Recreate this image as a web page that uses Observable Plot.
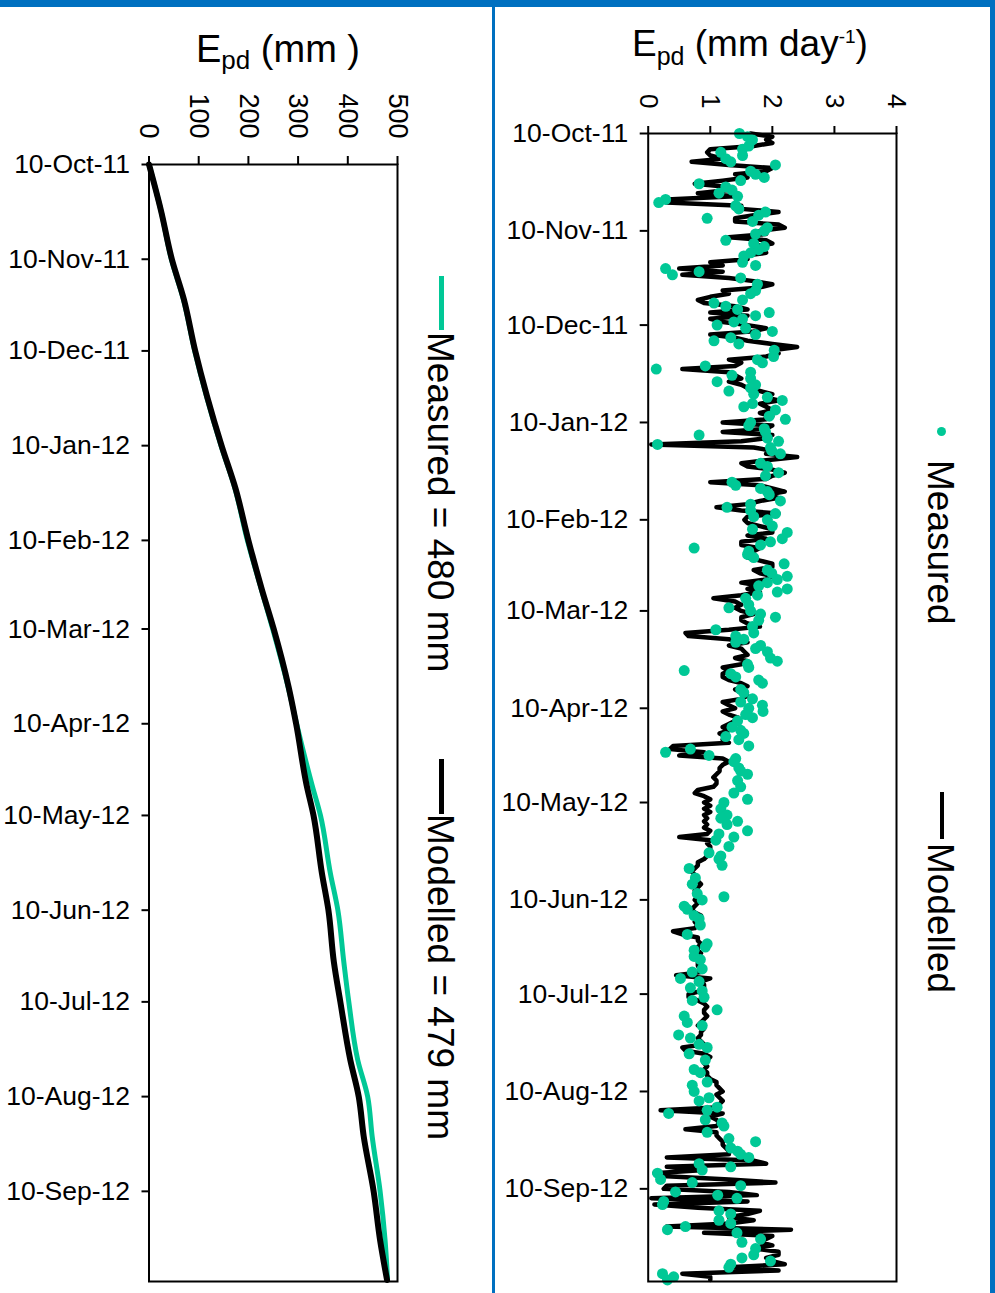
<!DOCTYPE html>
<html>
<head>
<meta charset="utf-8">
<script src="https://cdn.jsdelivr.net/npm/d3@7"></script>
<script src="https://cdn.jsdelivr.net/npm/@observablehq/plot@0.6"></script>
<style>
html,body{margin:0;padding:0;background:#fff;}
#root{position:relative;width:995px;height:1293px;overflow:hidden;font-family:"Liberation Sans",Arial,Helvetica,sans-serif;color:#000;}
.abs{position:absolute;white-space:nowrap;}
.blue{position:absolute;background:#0070C0;z-index:5;}
.rot{position:absolute;transform-origin:0 0;transform:rotate(90deg);white-space:nowrap;font-size:37px;line-height:37px;}
.sw{position:absolute;}
.plot{position:absolute;top:0;}
</style>
</head>
<body>
<div id="root">
  <div class="blue" style="left:0;top:0;width:995px;height:7px"></div>
  <div class="blue" style="left:492px;top:0;width:3px;height:1293px"></div>
  <div class="blue" style="left:990px;top:0;width:5px;height:1293px"></div>

  <div class="abs" style="left:196px;top:30px;font-size:38px;line-height:38px">E<span style="font-size:26px;line-height:0;position:relative;top:7px">pd</span> (mm )</div>
  <div class="abs" style="left:632px;top:25px;font-size:37px;line-height:37px">E<span style="font-size:25px;line-height:0;position:relative;top:9px">pd</span> (mm day<span style="font-size:19px;line-height:0;position:relative;top:-13px">-1</span>)</div>

  <div class="sw" style="left:438.5px;top:276px;width:5px;height:54px;background:#00C896"></div>
  <div class="rot" style="left:459px;top:332px">Measured = 480 mm</div>
  <div class="sw" style="left:438.5px;top:759px;width:5px;height:55px;background:#000"></div>
  <div class="rot" style="left:459px;top:814px">Modelled = 479 mm</div>

  <div class="sw" style="left:936.5px;top:427px;width:9px;height:9px;border-radius:50%;background:#00C896"></div>
  <div class="rot" style="left:959px;top:460px">Measured</div>
  <div class="sw" style="left:939.5px;top:792px;width:4px;height:47px;background:#000"></div>
  <div class="rot" style="left:959px;top:843px">Modelled</div>
</div>
<script>
// ---------- data ----------
const startDate = "10-Oct-11";
const dateTickLabels = ["10-Oct-11","10-Nov-11","10-Dec-11","10-Jan-12","10-Feb-12","10-Mar-12",
  "10-Apr-12","10-May-12","10-Jun-12","10-Jul-12","10-Aug-12","10-Sep-12"];
const cumTicks = [0, 100, 200, 300, 400, 500];
const dailyTicks = [0, 1, 2, 3, 4];

// cumulative E_pd (mm), read at these day offsets from 10-Oct-11
const cumDay      = [0,15,31,44,61,76,92,106,123,139,152,171,183,203,213,232,244,261,274,293,305,318,336,352,365];
const modelledCum = [0,24,46,70,93,117,146,174,200,227,251,281,296,317,331,348,361,372,385,405,422,432,452,465,479];
const measuredCum = [0,24,45,69,92,116,145,173,198,226,249,280,297,328,345,365,380,392,402,420,440,449,465,475,480];

// daily modelled E_pd (mm/day), one per day from 10-Oct-11
const modelledDaily = [
1.65,2.0,1.9,2.0,1.7,1.0,0.95,1.0,1.2,0.7,
1.3,2.0,1.9,1.4,1.6,1.2,0.75,1.3,1.3,0.8,
1.4,0.3,0.3,1.5,1.5,2.1,1.7,1.4,1.4,2.1,
2.2,1.8,1.9,1.3,1.9,2.0,1.7,1.8,1.9,1.5,
1.6,1.0,1.2,0.5,1.2,0.55,1.3,1.7,2.0,1.8,
1.2,1.3,1.0,0.8,0.9,1.4,1.6,1.0,1.6,1.0,
1.2,1.6,1.9,1.7,1.0,1.4,1.6,2.0,2.4,2.0,
2.1,1.9,1.3,1.5,1.4,0.55,1.3,1.4,1.5,1.3,
1.5,1.6,1.8,2.0,1.9,2.1,1.8,1.9,2.0,1.8,
2.0,1.9,1.2,2.0,1.9,1.2,2.0,1.9,1.5,0.05,
1.7,2.0,1.9,2.4,1.9,1.5,1.6,2.0,2.2,2.0,
1.9,1.0,1.8,2.0,2.2,1.9,2.1,1.8,1.6,1.1,
1.5,2.1,1.6,1.55,1.6,1.8,2.0,2.0,1.6,1.9,
1.5,1.5,1.8,1.7,1.7,1.6,1.8,2.0,2.0,1.7,
1.8,2.0,1.9,1.5,1.8,1.6,1.8,1.5,1.05,1.4,
1.5,1.4,1.5,1.7,1.5,1.5,1.6,1.8,1.3,0.6,
0.65,1.3,1.6,1.3,1.5,1.55,1.6,1.4,1.6,1.5,
1.2,1.3,1.2,1.2,1.3,1.5,1.6,1.4,1.5,1.6,
1.5,1.2,1.3,1.4,1.2,1.3,1.45,1.4,1.3,1.2,
1.3,1.15,1.25,1.2,1.3,0.4,0.35,0.9,0.5,1.2,
1.3,1.2,1.15,1.15,1.1,1.05,1.1,1.1,1.05,0.8,
0.75,0.9,1.0,0.9,1.0,0.9,1.0,0.9,0.95,0.9,
0.95,0.9,1.0,0.95,0.5,1.0,0.95,1.0,1.0,0.95,
0.95,0.9,0.8,0.8,0.75,0.7,0.75,0.78,0.8,0.85,
0.8,0.75,0.8,0.8,0.75,0.8,0.75,0.7,0.75,0.85,
0.8,0.75,0.8,0.75,0.4,0.55,0.8,0.8,0.85,0.8,
0.8,0.85,0.8,0.85,0.8,0.8,0.85,0.85,0.45,1.0,
0.85,0.9,0.9,0.85,0.65,0.65,0.8,0.9,0.95,0.9,
0.9,0.95,0.9,0.85,0.8,0.9,0.85,0.85,0.8,0.85,
0.9,0.55,0.6,0.9,1.0,0.95,0.9,0.95,0.9,0.95,
0.95,1.0,1.1,1.1,1.15,1.2,1.1,1.15,1.2,1.15,
1.15,0.2,1.2,1.0,1.1,1.15,1.1,0.6,1.1,1.1,
1.15,1.2,1.2,1.25,1.3,1.3,0.3,1.7,1.9,0.3,
0.9,0.1,0.3,1.3,2.05,0.3,0.25,1.3,1.75,0.05,
1.6,0.1,0.8,1.8,1.6,1.3,1.7,1.3,0.3,2.3,
0.9,2.0,1.9,1.8,2.0,1.7,2.1,2.1,1.9,2.0,
2.2,1.3,2.1,0.55,1.0,1.0
];

// daily measured E_pd (mm/day), one per day from 10-Oct-11 (null = no measurement)
const measuredDaily = [
1.47,1.60,1.68,null,1.62,1.52,1.17,1.52,1.25,1.33,
2.05,null,1.65,1.73,1.87,1.49,0.82,1.25,1.35,1.14,
1.44,0.28,0.17,1.41,1.46,1.89,1.78,0.95,1.68,null,
1.92,1.87,1.73,null,1.25,1.70,1.87,1.78,1.65,1.54,
null,1.52,1.73,0.28,0.82,0.39,1.49,null,1.76,null,
1.73,1.65,null,1.52,1.06,1.25,1.44,1.95,1.73,1.52,
1.38,1.11,1.57,2.00,1.73,1.33,1.06,1.46,null,2.03,
null,2.02,1.76,1.84,0.92,0.13,1.65,1.35,1.65,1.11,
1.73,1.65,1.30,1.70,1.92,2.16,1.68,1.54,2.05,null,
1.95,2.21,1.65,1.62,1.87,1.89,0.82,1.92,2.10,0.15,
1.97,1.99,2.13,null,null,1.81,1.92,null,2.10,1.89,
null,1.35,1.41,1.81,1.92,1.95,null,2.13,1.65,1.27,
1.65,2.05,1.70,1.92,null,2.00,1.68,2.24,null,2.16,
1.97,1.81,0.74,1.62,1.60,1.70,null,2.19,null,1.92,
1.99,2.24,2.08,1.92,1.78,2.24,2.08,1.76,1.57,null,
1.62,1.30,1.65,1.81,2.05,1.78,null,1.68,1.09,1.70,
1.41,1.54,1.41,1.81,1.73,1.92,null,1.97,2.08,1.60,
1.62,0.58,1.33,1.41,1.78,1.84,null,1.49,1.54,null,
1.68,1.49,1.84,1.62,1.85,1.57,1.68,1.44,null,1.35,
1.49,1.54,1.25,1.46,null,1.62,0.68,0.28,0.98,1.41,
1.38,null,1.46,1.49,1.60,null,1.44,null,1.49,null,
1.38,null,1.60,1.22,null,1.17,null,1.27,1.17,1.44,
1.27,null,1.60,1.14,1.38,1.09,null,1.30,null,0.98,
1.17,1.14,null,1.19,0.66,null,null,0.76,null,0.71,
null,null,0.79,1.22,0.87,null,0.58,0.63,null,0.74,
0.82,null,0.84,null,null,0.63,null,null,0.95,0.92,
0.74,null,0.74,0.84,null,null,0.87,0.71,null,0.52,
0.82,null,0.68,0.87,null,0.90,0.71,null,null,1.11,
null,0.58,null,0.63,0.87,null,null,0.49,0.68,null,
0.82,0.95,null,0.66,null,0.92,null,null,0.74,0.84,
null,null,0.95,0.71,null,0.74,null,0.98,0.82,null,
1.11,0.95,0.33,null,0.92,1.19,1.22,null,0.95,null,
1.30,1.73,null,1.33,1.44,1.49,1.62,null,0.82,1.33,
0.87,0.15,null,0.20,0.71,1.49,null,0.44,1.12,1.43,
0.25,0.23,null,1.14,1.33,null,1.14,1.33,0.60,0.31,
1.43,null,1.81,1.51,null,1.73,null,1.70,1.51,1.97,
1.33,1.30,null,0.23,0.41,0.31
];

// ---------- build ----------
const GREEN = "#00C896";
const FONT = "'Liberation Sans', Arial, Helvetica, sans-serif";
const parse = d3.utcParse("%d-%b-%y");
const fmt = d3.utcFormat("%d-%b-%y");
const t0 = parse(startDate);
const dayToDate = (d) => new Date(t0.getTime() + d * 864e5);
const yDomain = [t0, dayToDate(365.5)];
const tickDates = dateTickLabels.map(parse);

const cumRows = cumDay.map((d, i) => ({date: dayToDate(d), modelled: modelledCum[i], measured: measuredCum[i]}));
const modRows = modelledDaily.map((v, i) => ({date: dayToDate(i), v}));
const measRows = measuredDaily.map((v, i) => ({date: dayToDate(i), v}));

const baseStyle = {fontFamily: FONT, fontSize: "26px", background: "transparent", color: "#000", overflow: "visible"};

const leftPlot = Plot.plot({
  width: 492, height: 1293,
  marginLeft: 148.5, marginRight: 95, marginTop: 164, marginBottom: 12,
  style: baseStyle,
  x: {domain: [0, 500]},
  y: {type: "utc", domain: yDomain, reverse: true},
  marks: [
    Plot.line(cumRows, {x: "measured", y: "date", stroke: GREEN, strokeWidth: 5, curve: "monotone-y"}),
    Plot.line(cumRows, {x: "modelled", y: "date", stroke: "#000", strokeWidth: 6, curve: "monotone-y"}),
    Plot.frame({stroke: "#000", strokeWidth: 2}),
    Plot.axisX({anchor: "top", ticks: cumTicks, tickFormat: d3.format("d"), tickRotate: 90, tickSize: 9, tickPadding: 17, fontSize: 27, strokeWidth: 2, label: null}),
    Plot.axisY({anchor: "left", ticks: tickDates, tickFormat: fmt, tickSize: 7, tickPadding: 12, fontSize: 26.5, strokeWidth: 2, label: null})
  ]
});
leftPlot.classList.add("plot");
leftPlot.style.left = "0px";

const rightPlot = Plot.plot({
  width: 495, height: 1293,
  marginLeft: 152.7, marginRight: 94, marginTop: 133, marginBottom: 12,
  style: baseStyle,
  x: {domain: [0, 4]},
  y: {type: "utc", domain: yDomain, reverse: true},
  marks: [
    Plot.line(modRows, {x: "v", y: "date", stroke: "#000", strokeWidth: 4.5}),
    Plot.dot(measRows, {x: "v", y: "date", r: 5.5, fill: GREEN, stroke: "none"}),
    Plot.frame({stroke: "#000", strokeWidth: 2}),
    Plot.axisX({anchor: "top", ticks: dailyTicks, tickFormat: d3.format("d"), tickRotate: 90, tickSize: 8, tickPadding: 17, fontSize: 26, strokeWidth: 2, label: null}),
    Plot.axisY({anchor: "left", ticks: tickDates, tickFormat: fmt, tickSize: 8, tickPadding: 12, fontSize: 26.5, strokeWidth: 2, label: null})
  ]
});
rightPlot.classList.add("plot");
rightPlot.style.left = "495px";

const root = document.getElementById("root");
root.insertBefore(rightPlot, root.firstChild);
root.insertBefore(leftPlot, root.firstChild);
</script>
</body>
</html>
